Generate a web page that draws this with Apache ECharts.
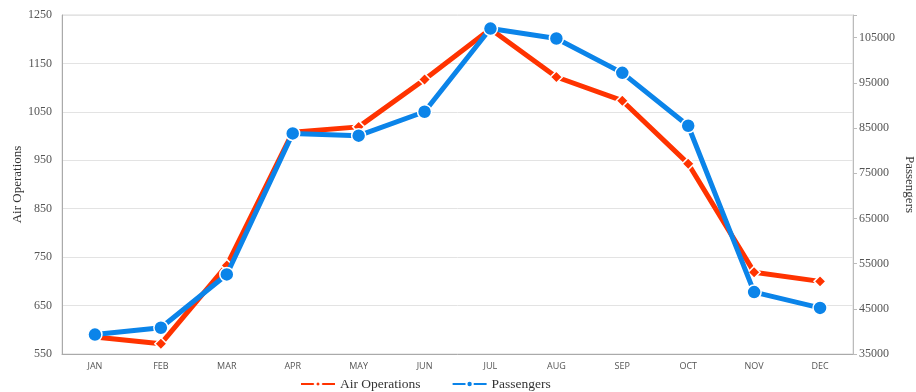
<!DOCTYPE html>
<html>
<head>
<meta charset="utf-8">
<script src="https://cdn.jsdelivr.net/npm/echarts@6/dist/echarts.min.js"></script>
<style>
  html, body { margin: 0; padding: 0; background: #fff; }
  #chart { width: 916px; height: 392px; }
</style>
</head>
<body>
<div id="chart"></div>
<script>
// Monthly airport traffic: air operations (left axis) vs passengers (right axis)
const months = ['JAN', 'FEB', 'MAR', 'APR', 'MAY', 'JUN', 'JUL', 'AUG', 'SEP', 'OCT', 'NOV', 'DEC'];
const airOperations = [585, 571, 733, 1008, 1019, 1117, 1221, 1122, 1073, 943, 719, 700];
const passengers = [39300, 40800, 52600, 83800, 83300, 88600, 107000, 104800, 97200, 85500, 48700, 45200];

const RED = '#ff3300';
const BLUE = '#0b84e9';
const SERIF = '"Liberation Serif", "DejaVu Serif", serif';
const PASSENGER_MAX = 110000;

const chart = echarts.init(document.getElementById('chart'));
chart.setOption({
  animation: false,
  backgroundColor: '#fff',
  grid: {
    left: 62, right: 63, top: 15, bottom: 38,
    outerBoundsMode: 'none',
    containLabel: false,
    show: true, borderColor: '#d9d9d9', borderWidth: 1
  },
  legend: {
    top: 372,
    left: 295,
    itemWidth: 34,
    itemHeight: 8,
    itemGap: 31,
    textStyle: { fontFamily: SERIF, fontSize: 13.5, color: '#333' },
    data: ['Air Operations', 'Passengers']
  },
  xAxis: {
    type: 'category',
    data: months,
    boundaryGap: true,
    axisLine: { lineStyle: { color: '#aaa' } },
    axisTick: { show: false },
    axisLabel: { fontFamily: '"Open Sans", sans-serif', fontSize: 9, color: '#555', margin: 8 }
  },
  yAxis: [
    {
      type: 'value',
      name: 'Air Operations',
      nameLocation: 'middle',
      nameGap: 38,
      nameMoveOverlap: false,
      nameTextStyle: { fontFamily: SERIF, fontSize: 13, color: '#333' },
      min: 550, max: 1250, interval: 100,
      axisLine: { show: true, lineStyle: { color: '#aaa' } },
      axisTick: { show: false },
      axisLabel: { fontFamily: SERIF, fontSize: 12, color: '#555', margin: 10, formatter: (v) => String(v) },
      splitLine: { lineStyle: { color: '#e3e3e3' } }
    },
    {
      type: 'value',
      name: 'Passengers',
      nameLocation: 'middle',
      nameGap: 50,
      nameMoveOverlap: false,
      nameRotate: -90,
      nameTextStyle: { fontFamily: SERIF, fontSize: 13, color: '#333' },
      min: 35000, max: PASSENGER_MAX, interval: 10000,
      axisLine: { show: true, lineStyle: { color: '#bbb' } },
      axisTick: { show: true, length: 4, lineStyle: { color: '#bbb' } },
      axisLabel: {
        fontFamily: SERIF, fontSize: 12, color: '#555', margin: 6,
        formatter: (v) => (v >= PASSENGER_MAX ? '' : String(v))
      },
      splitLine: { show: false }
    }
  ],
  series: [
    {
      name: 'Air Operations',
      type: 'line',
      yAxisIndex: 0,
      data: airOperations,
      symbol: 'diamond',
      symbolSize: 12,
      color: RED,
      lineStyle: { width: 5, color: RED },
      itemStyle: { color: RED, borderColor: '#fff', borderWidth: 1.5 },
      z: 2
    },
    {
      name: 'Passengers',
      type: 'line',
      yAxisIndex: 1,
      data: passengers,
      symbol: 'circle',
      symbolSize: 14,
      color: BLUE,
      lineStyle: { width: 5, color: BLUE },
      itemStyle: { color: BLUE, borderColor: '#fff', borderWidth: 1.5 },
      z: 3
    }
  ]
});
</script>
</body>
</html>
